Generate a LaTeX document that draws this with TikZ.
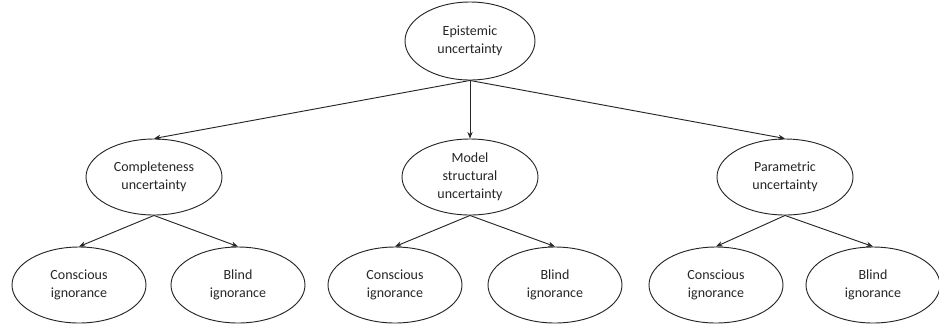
\documentclass[tikz,border=0pt]{standalone}
\usepackage{fontspec}
\setmainfont{Carlito}
\usetikzlibrary{shapes.geometric,arrows.meta}
\begin{document}
\begin{tikzpicture}[x=0.75pt,y=-0.75pt,
  el/.style={ellipse,draw=black!85,line width=0.7pt,inner sep=0pt,align=center,
    font=\fontsize{10.5pt}{13.6pt}\selectfont,text=black!85},
  topel/.style={el,minimum width=97.5pt,minimum height=58.5pt},
  midel/.style={el,minimum width=102pt,minimum height=57pt},
  botel/.style={el,minimum width=100.5pt,minimum height=57pt},
  conn/.style={draw=black!85,line width=0.7pt,-{Stealth[length=5pt,width=4pt]}}]
\useasboundingbox (0,0) rectangle (939,326);
\node[topel] (epi) at (470,41) {Epistemic\\uncertainty};
\node[midel] (comp) at (154,177) {Completeness\\uncertainty};
\node[midel] (model) at (470,177) {Model\\structural\\uncertainty};
\node[midel] (param) at (785,177) {Parametric\\uncertainty};
\node[botel] (c1) at (79,285) {Conscious\\ignorance};
\node[botel] (b1) at (238,285) {Blind\\ignorance};
\node[botel] (c2) at (395,285) {Conscious\\ignorance};
\node[botel] (b2) at (555,285) {Blind\\ignorance};
\node[botel] (c3) at (716,285) {Conscious\\ignorance};
\node[botel] (b3) at (873,285) {Blind\\ignorance};
\draw[conn] (epi.south) -- (comp.north);
\draw[conn] (epi.south) -- (model.north);
\draw[conn] (epi.south) -- (param.north);
\draw[conn] (comp.south) -- (c1.north);
\draw[conn] (comp.south) -- (b1.north);
\draw[conn] (model.south) -- (c2.north);
\draw[conn] (model.south) -- (b2.north);
\draw[conn] (param.south) -- (c3.north);
\draw[conn] (param.south) -- (b3.north);
\end{tikzpicture}
\end{document}
